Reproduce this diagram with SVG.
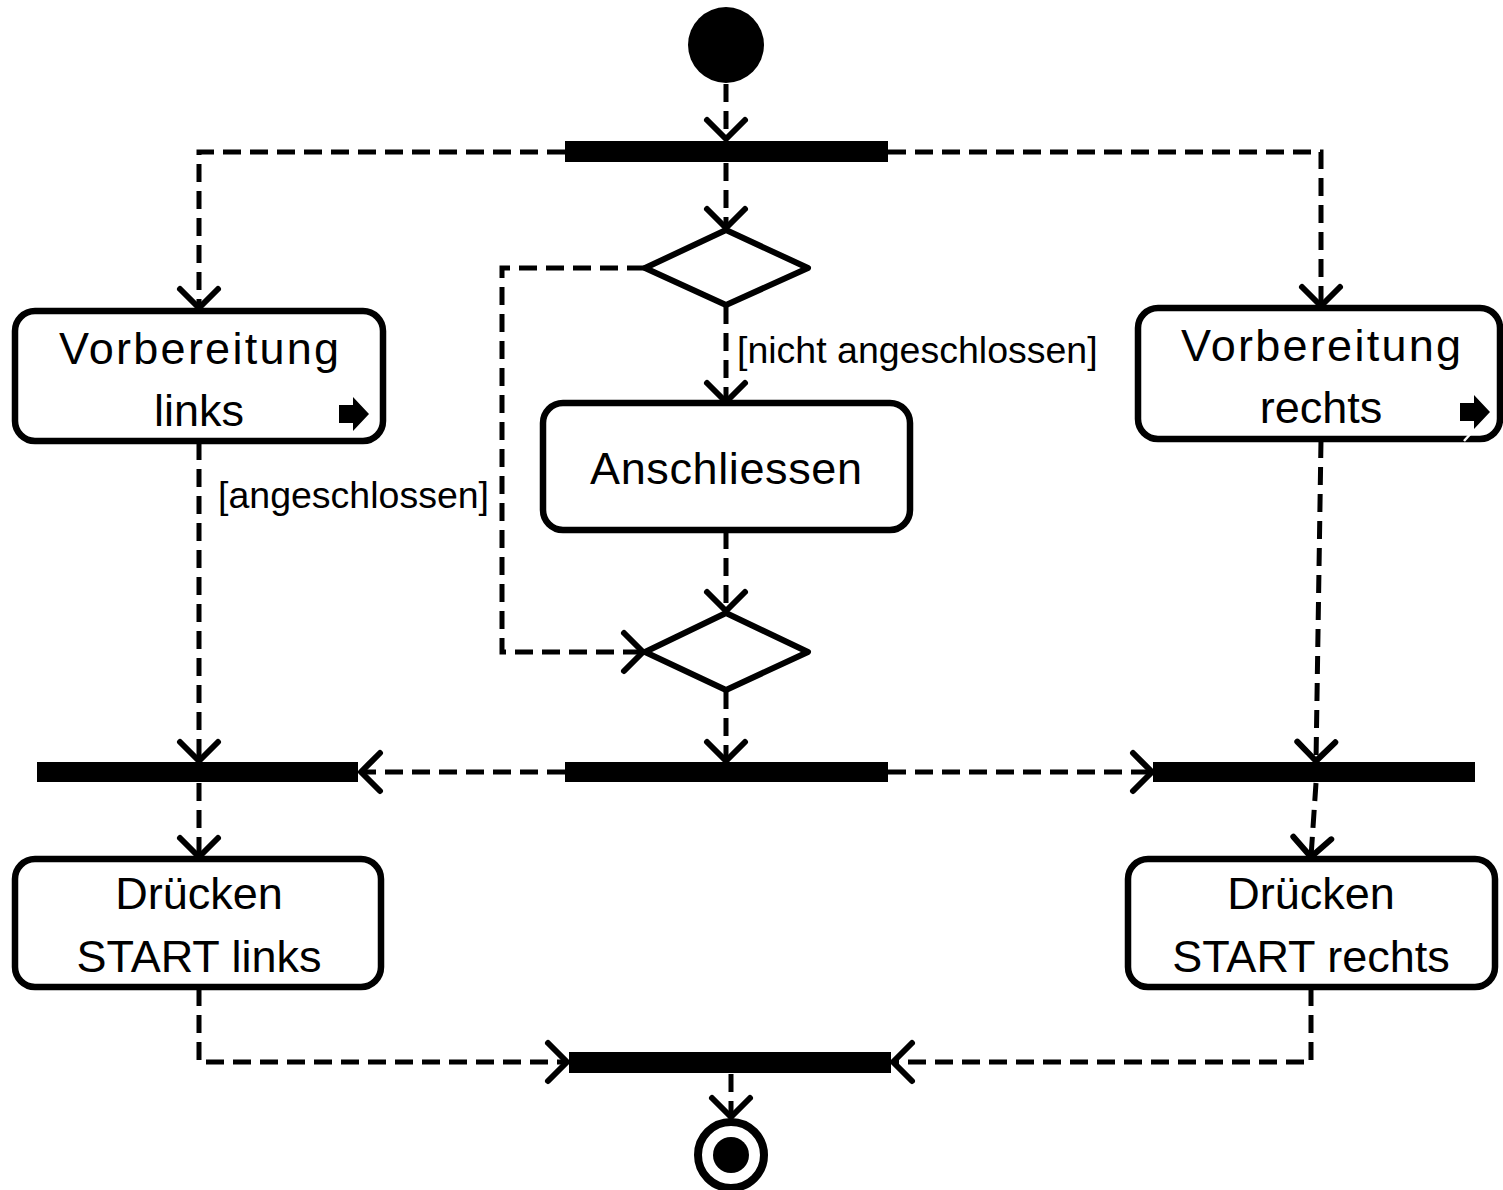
<svg xmlns="http://www.w3.org/2000/svg" width="1503" height="1190" viewBox="0 0 1503 1190">
<style>
.bg{fill:#fff}
.act{fill:#fff;stroke:#000;stroke-width:6.5}
.dia{fill:#fff;stroke:#000;stroke-width:6;stroke-linejoin:round}
.bar{fill:#000}
.con{fill:none;stroke:#000;stroke-width:5;stroke-dasharray:18 9;marker-end:url(#arr)}
.t{font-family:"Liberation Sans",Arial,sans-serif;font-size:45px;fill:#000;text-anchor:middle}
.g{font-family:"Liberation Sans",Arial,sans-serif;font-size:37.5px;fill:#000}
</style>
<defs>
<marker id="arr" markerUnits="userSpaceOnUse" markerWidth="50" markerHeight="50" viewBox="-25 -25 50 50" refX="0" refY="0" orient="auto">
<path d="M-19,-19 L0,0 L-19,19" fill="none" stroke="#000" stroke-width="6" stroke-linecap="round" stroke-linejoin="round"/>
</marker>
<path id="icon" d="M0,-9 H14 V-17 L30,0 L14,17 V9 H0 Z" fill="#000"/>
</defs>
<rect class="bg" x="0" y="0" width="1503" height="1190"/>

<g id="connectors">
<path class="con" d="M726,84 V139"/>
<path class="con" d="M565,152 H199 V308"/>
<path class="con" d="M888,152 H1321 V306"/>
<path class="con" d="M726,163 V228"/>
<path class="con" d="M726,306 V402"/>
<path class="con" d="M645,268 H502 V652 H643"/>
<path class="con" d="M726,531 V611"/>
<path class="con" d="M726,691 V761"/>
<path class="con" d="M199,442 V761"/>
<path class="con" d="M1321,440 L1316,761"/>
<path class="con" d="M565,772 H361"/>
<path class="con" d="M888,772 H1152"/>
<path class="con" d="M199,783 V857"/>
<path class="con" d="M1316,783 L1311,857"/>
<path class="con" d="M199,988 V1062 H567"/>
<path class="con" d="M1311,988 V1062 H893"/>
<path class="con" d="M731,1074 V1117"/>
<text class="g" x="737" y="363">[nicht angeschlossen]</text>
<text class="g" x="218" y="508">[angeschlossen]</text>
</g>

<g id="start"><circle cx="726" cy="45" r="38" fill="#000"/></g>

<g id="fork1"><rect class="bar" x="565" y="141" width="323" height="21"/></g>

<g id="decision1"><polygon class="dia" points="726,230 808,268 726,305 645,268"/></g>

<g id="prep-left">
<rect class="act" x="15" y="311" width="368" height="130" rx="20"/>
<text class="t" x="199" y="364" textLength="280">Vorbereitung</text>
<text class="t" x="199" y="426">links</text>
<use href="#icon" x="339" y="414"/>
</g>

<g id="prep-right">
<rect class="act" x="1138" y="308" width="362" height="131" rx="20"/>
<text class="t" x="1321" y="361" textLength="280">Vorbereitung</text>
<text class="t" x="1321" y="423">rechts</text>
<use href="#icon" x="1460" y="412"/>
<path d="M1464,441 L1474,430" stroke="#fff" stroke-width="2.5"/>
</g>

<g id="anschliessen">
<rect class="act" x="543" y="403" width="367" height="127" rx="20"/>
<text class="t" x="726" y="484" textLength="272">Anschliessen</text>
</g>

<g id="merge1"><polygon class="dia" points="726,613 808,652 726,690 645,652"/></g>

<g id="fork2"><rect class="bar" x="565" y="762" width="323" height="20"/></g>
<g id="join-left"><rect class="bar" x="37" y="762" width="321" height="20"/></g>
<g id="join-right"><rect class="bar" x="1153" y="762" width="322" height="20"/></g>

<g id="press-left">
<rect class="act" x="15" y="859" width="366" height="128" rx="20"/>
<text class="t" x="199" y="909">Drücken</text>
<text class="t" x="199" y="972">START links</text>
</g>

<g id="press-right">
<rect class="act" x="1128" y="859" width="367" height="128" rx="20"/>
<text class="t" x="1311" y="909">Drücken</text>
<text class="t" x="1311" y="972">START rechts</text>
</g>

<g id="join-final"><rect class="bar" x="569" y="1052" width="322" height="21"/></g>

<g id="end">
<circle cx="731" cy="1155" r="33" fill="#fff" stroke="#000" stroke-width="8"/>
<circle cx="731" cy="1155" r="18" fill="#000"/>
</g>
</svg>
